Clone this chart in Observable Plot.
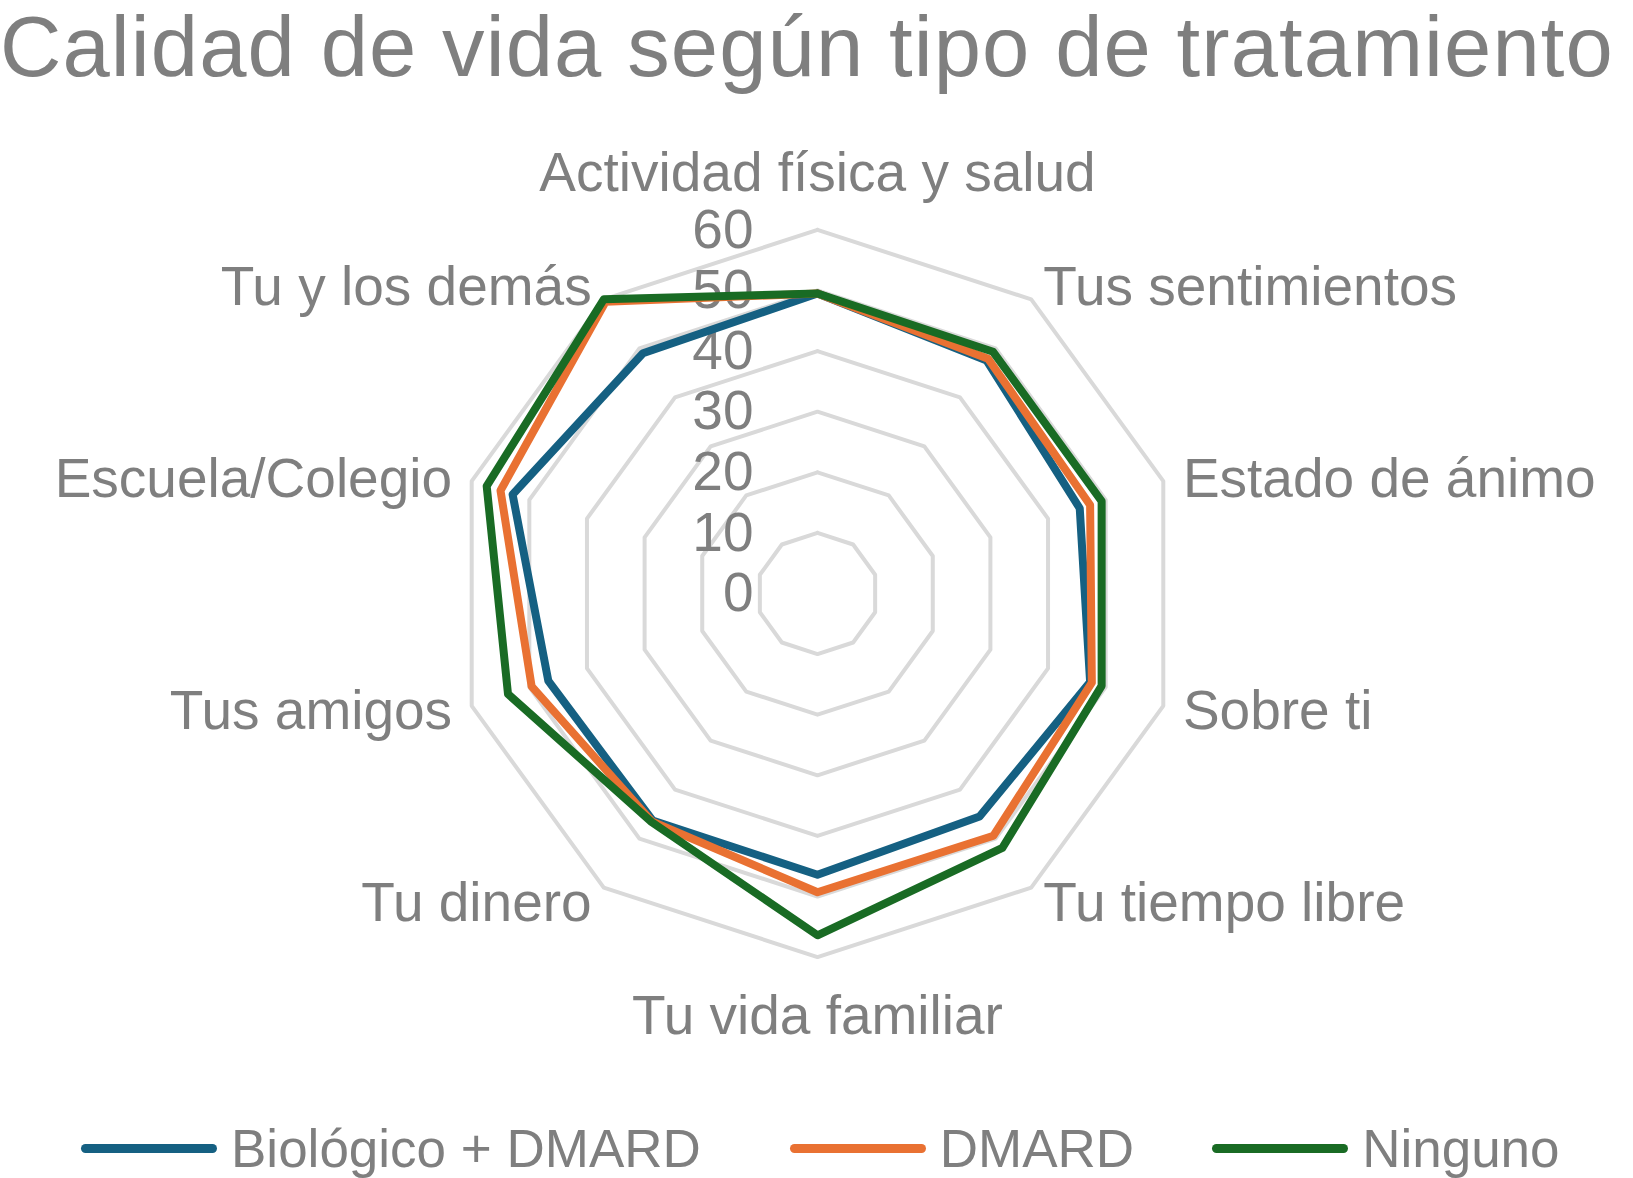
<!DOCTYPE html>
<html>
<head>
<meta charset="utf-8">
<script src="https://cdn.jsdelivr.net/npm/d3@7"></script>
<script src="https://cdn.jsdelivr.net/npm/@observablehq/plot@0.6"></script>
<style>
  html, body { margin: 0; padding: 0; background: #ffffff; }
  body { width: 1633px; height: 1178px; position: relative; overflow: hidden;
         font-family: "Liberation Sans", Arial, sans-serif; color: #7f7f7f; }
  #title { position: absolute; left: 0; top: 9px; font-size: 85px; letter-spacing: 1.1px; line-height: 76px; white-space: nowrap; color: #7f7f7f; }
  #chart { position: absolute; left: 0; top: 100px; }
  #legend { position: absolute; left: 81px; top: 1100px; height: 96px; display: flex; align-items: center;
            font-size: 53px; color: #7f7f7f; white-space: nowrap; }
  .item { display: flex; align-items: center; margin-right: 89px; }
  .item:nth-child(2) { margin-right: 78px; }
  .sw { display: inline-block; width: 136px; height: 9px; border-radius: 4.5px; margin-right: 14px; }
</style>
</head>
<body>
<div id="title">Calidad de vida según tipo de tratamiento</div>
<div id="chart"></div>
<div id="legend"></div>
<script>
// ---- data ----
const categories = [
  "Actividad física y salud",
  "Tus sentimientos",
  "Estado de ánimo",
  "Sobre ti",
  "Tu tiempo libre",
  "Tu vida familiar",
  "Tu dinero",
  "Tus amigos",
  "Escuela/Colegio",
  "Tu y los demás"
];
const seriesNames = ["Biológico + DMARD", "DMARD", "Ninguno"];
const biologicoDmard = [49.5, 47.5, 45.5, 47.3, 45.5, 46.4, 46.3, 46.7, 52.9, 49.0];
const dmard          = [49.5, 47.9, 47.3, 47.6, 49.4, 49.3, 46.5, 49.6, 55.0, 59.5];
const ninguno        = [49.5, 49.3, 49.3, 49.3, 51.9, 56.4, 46.6, 53.7, 57.4, 60.0];
const tickValues = [0, 10, 20, 30, 40, 50, 60];
const colors = ["#156082", "#E97132", "#196B24"];

// ---- geometry helpers ----
const n = categories.length;
const angle = i => (i * 2 * Math.PI) / n;
const W = 1633, H = 1000, cx = 817, cy = 493, k = 6.06; // px per unit
const labelR = 63.4;

const seriesValues = [biologicoDmard, dmard, ninguno];
const seriesPts = [];
seriesValues.forEach((vals, s) => {
  for (let i = 0; i <= n; i++) {
    const v = vals[i % n];
    seriesPts.push({series: seriesNames[s], x: v * Math.sin(angle(i)), y: v * Math.cos(angle(i))});
  }
});

const gridPts = [];
tickValues.filter(t => t > 0).forEach(t => {
  for (let i = 0; i <= n; i++) {
    gridPts.push({level: t, x: t * Math.sin(angle(i)), y: t * Math.cos(angle(i))});
  }
});

const catPts = categories.map((c, i) => ({
  name: c,
  s: Math.sin(angle(i)),
  c: Math.cos(angle(i)),
  x: labelR * Math.sin(angle(i)),
  y: labelR * Math.cos(angle(i))
}));

const labelStyle = {fill: "#7f7f7f", fontSize: 55, fontFamily: "Liberation Sans, Arial, sans-serif"};
const side = (d, sx, up) => (sx > 0 ? d.s > 0.1 : d.s < -0.1) && (up ? d.c > 0 : d.c < 0);

const chart = Plot.plot({
  width: W,
  height: H,
  margin: 0,
  style: {fontFamily: "Liberation Sans, Arial, sans-serif", background: "transparent"},
  x: {domain: [-cx / k, (W - cx) / k], axis: null},
  y: {domain: [-(H - cy) / k, cy / k], axis: null},
  color: {domain: seriesNames, range: colors},
  marks: [
    Plot.line(gridPts, {x: "x", y: "y", z: "level", stroke: "#d9d9d9", strokeWidth: 4}),
    Plot.text(tickValues, {x: () => 0, y: d => d, text: d => String(d), textAnchor: "end", dx: -64, ...labelStyle}),
    Plot.line(seriesPts, {x: "x", y: "y", z: "series", stroke: "series", strokeWidth: 8, strokeLinejoin: "round", strokeLinecap: "round"}),
    Plot.text(catPts.filter(d => side(d, 1, true)), {x: "x", y: "y", text: "name", textAnchor: "start", lineAnchor: "middle", dy: 5, ...labelStyle}),
    Plot.text(catPts.filter(d => side(d, 1, false)), {x: "x", y: "y", text: "name", textAnchor: "start", lineAnchor: "middle", dy: -1, ...labelStyle}),
    Plot.text(catPts.filter(d => side(d, -1, true)), {x: "x", y: "y", text: "name", textAnchor: "end", lineAnchor: "middle", dy: 5, ...labelStyle}),
    Plot.text(catPts.filter(d => side(d, -1, false)), {x: "x", y: "y", text: "name", textAnchor: "end", lineAnchor: "middle", dy: -1, ...labelStyle}),
    Plot.text(catPts.filter(d => Math.abs(d.s) <= 0.1 && d.c > 0), {x: "x", y: "y", text: "name", textAnchor: "middle", lineAnchor: "bottom", dy: -18, ...labelStyle}),
    Plot.text(catPts.filter(d => Math.abs(d.s) <= 0.1 && d.c < 0), {x: "x", y: "y", text: "name", textAnchor: "middle", lineAnchor: "top", dy: 17, ...labelStyle})
  ]
});
document.getElementById("chart").appendChild(chart);

// ---- legend ----
const legend = document.getElementById("legend");
seriesNames.forEach((name, i) => {
  const item = document.createElement("div");
  item.className = "item";
  const sw = document.createElement("span");
  sw.className = "sw";
  sw.style.background = colors[i];
  const t = document.createElement("span");
  t.textContent = name;
  item.appendChild(sw);
  item.appendChild(t);
  legend.appendChild(item);
});
</script>
</body>
</html>
